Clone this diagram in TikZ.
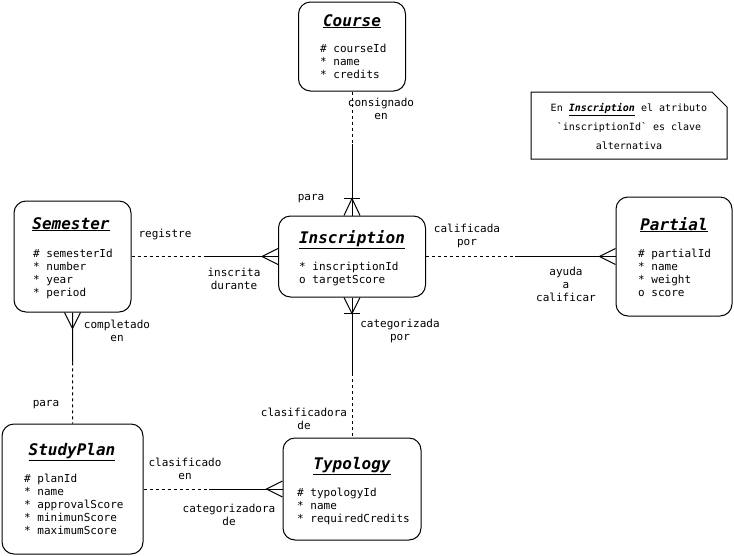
\documentclass[tikz,border=0pt]{standalone}
\usepackage{fontspec}
\setmonofont{DejaVu Sans Mono}
\renewcommand{\familydefault}{\ttdefault}
\usetikzlibrary{calc}

\tikzset{
	entity/.style={draw, line width=1pt, rounded corners=12pt, inner sep=0pt},
	etitle/.style={font=\fontsize{16}{19}\selectfont\bfseries\itshape, inner sep=0pt, anchor=base},
	attrs/.style={font=\fontsize{11}{13}\selectfont, align=left, inner sep=0pt, anchor=north west},
	rel/.style={font=\fontsize{11}{13}\selectfont, align=center, inner sep=0pt},
	weak/.style={line width=1pt, dash pattern=on 3pt off 3pt},
	strong/.style={line width=1pt},
	foot/.style={line width=1pt},
}

\begin{document}
\begin{tikzpicture}[x=1pt,y=-1pt]

	\useasboundingbox (0,0) rectangle (734,555);

	\coordinate (Ccourse) at (352,46.5);
	\coordinate (Cinscription) at (352,256.5);
	\coordinate (Csemester) at (72.5,256.5);
	\coordinate (Cpartial) at (674,256.5);
	\coordinate (Cstudyplan) at (72.5,489);
	\coordinate (Ctypology) at (352,489);

	% entities
	\node[entity, minimum width=107pt, minimum height=89pt] (course) at (Ccourse) {};
	\node[etitle] (courseTitle) at (352,26) {\underline{Course}};
	\node[attrs] (courseAttrs) at (320,44) {\# courseId\\* name\\* credits};

	\node[entity, minimum width=147pt, minimum height=81pt] (inscription) at (Cinscription) {};
	\node[etitle] (inscriptionTitle) at (352,243) {\underline{Inscription}};
	\node[attrs] (inscriptionAttrs) at (299,262) {* inscriptionId\\o targetScore};

	\node[entity, minimum width=117pt, minimum height=111pt] (semester) at (Csemester) {};
	\node[etitle] (semesterTitle) at (71,229) {\underline{Semester}};
	\node[attrs] (semesterAttrs) at (33,249) {\# semesterId\\* number\\* year\\* period};

	\node[entity, minimum width=116pt, minimum height=119pt] (partial) at (Cpartial) {};
	\node[etitle] (partialTitle) at (674,230) {\underline{Partial}};
	\node[attrs] (partialAttrs) at (638,249) {\# partialId\\* name\\* weight\\o score};

	\node[entity, minimum width=141pt, minimum height=130pt] (studyplan) at (Cstudyplan) {};
	\node[etitle] (studyplanTitle) at (72,455) {\underline{StudyPlan}};
	\node[attrs] (studyplanAttrs) at (24,474) {\# planId\\* name\\* approvalScore\\* minimunScore\\* maximumScore};

	\node[entity, minimum width=138pt, minimum height=102pt] (typology) at (Ctypology) {};
	\node[etitle] (typologyTitle) at (352,469) {\underline{Typology}};
	\node[attrs] (typologyAttrs) at (297,488) {\# typologyId\\* name\\* requiredCredits};

	% note
	\draw[line width=1pt] (531,92) -- (712,92) -- (727,107) -- (727,159) -- (531,159) -- cycle;
	\node[rel, font=\fontsize{10}{19}\selectfont] (note) at (629,127)
		{En \underline{\textbf{\textit{Inscription}}} el atributo\\`inscriptionId` es clave\\alternativa};

	% Course - Inscription
	\coordinate (ciSplit) at ($(course.south)!0.42!(inscription.north)$);
	\draw[weak] (course.south) -- (ciSplit);
	\draw[strong] (ciSplit) -- (inscription.north);
	\draw[foot] ($(inscription.north)+(-8,0)$) -- ($(inscription.north)+(0,-17)$) -- ($(inscription.north)+(8,0)$);
	\draw[foot] ($(inscription.north)+(-8,-17)$) -- ($(inscription.north)+(8,-17)$);
	\node[rel] (lblConsignado) at (381,108.5) {consignado\\en};
	\node[rel] (lblPara) at (311,199) {para};

	% Semester - Inscription
	\coordinate (siSplit) at ($(semester.east)!0.5!(inscription.west)$);
	\draw[weak] (semester.east) -- (siSplit);
	\draw[strong] (siSplit) -- (inscription.west);
	\draw[foot] ($(inscription.west)+(0,-8)$) -- ($(inscription.west)+(-16,0)$) -- ($(inscription.west)+(0,8)$);
	\node[rel] (lblRegistre) at (165,234) {registre};
	\node[rel] (lblInscrita) at (234,278.5) {inscrita\\durante};

	% Inscription - Partial
	\coordinate (ipSplit) at ($(inscription.east)!0.47!(partial.west)$);
	\draw[weak] (inscription.east) -- (ipSplit);
	\draw[strong] (ipSplit) -- (partial.west);
	\draw[foot] ($(partial.west)+(0,-8)$) -- ($(partial.west)+(-16,0)$) -- ($(partial.west)+(0,8)$);
	\node[rel] (lblCalificada) at (467,235.5) {calificada\\por};
	\node[rel] (lblAyuda) at (566,284) {ayuda\\a\\calificar};

	% Inscription - Typology
	\coordinate (itSplit) at ($(inscription.south)!0.54!(typology.north)$);
	\draw[strong] (inscription.south) -- (itSplit);
	\draw[weak] (itSplit) -- (typology.north);
	\draw[foot] ($(inscription.south)+(-8,0)$) -- ($(inscription.south)+(0,16)$) -- ($(inscription.south)+(8,0)$);
	\draw[foot] ($(inscription.south)+(-8,16)$) -- ($(inscription.south)+(8,16)$);
	\node[rel] (lblCategorizada) at (400,330.5) {categorizada\\por};
	\node[rel] (lblClasificadora) at (304,418.5) {clasificadora\\de};

	% Semester - StudyPlan
	\coordinate (ssSplit) at ($(semester.south)!0.45!(studyplan.north)$);
	\draw[strong] (semester.south) -- (ssSplit);
	\draw[weak] (ssSplit) -- (studyplan.north);
	\draw[foot] ($(semester.south)+(-8,0)$) -- ($(semester.south)+(0,16)$) -- ($(semester.south)+(8,0)$);
	\node[rel] (lblCompletado) at (117,331) {completado\\en};
	\node[rel] (lblPara2) at (46,405) {para};

	% StudyPlan - Typology
	\coordinate (stSplit) at ($(studyplan.east)!0.47!(typology.west)$);
	\draw[weak] (studyplan.east) -- (stSplit);
	\draw[strong] (stSplit) -- (typology.west);
	\draw[foot] ($(typology.west)+(0,-8)$) -- ($(typology.west)+(-16,0)$) -- ($(typology.west)+(0,8)$);
	\node[rel] (lblClasificado) at (185,468.5) {clasificado\\en};
	\node[rel] (lblCategorizadora) at (229,514.5) {categorizadora\\de};

\end{tikzpicture}
\end{document}
